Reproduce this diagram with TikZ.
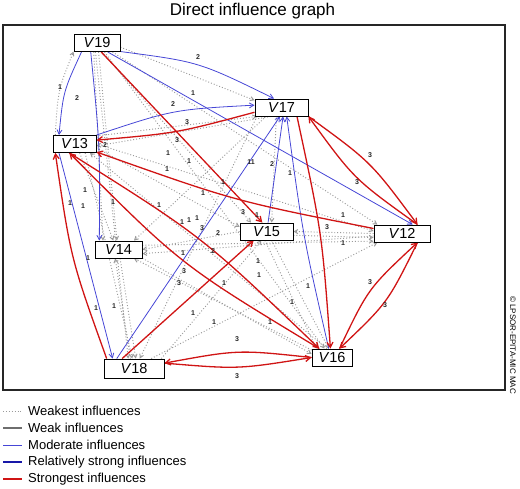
\documentclass[tikz,border=0pt]{standalone}
\usepackage{fontspec}
\setmainfont{Liberation Sans}
\usetikzlibrary{arrows.meta,shadows}
\definecolor{redE}{HTML}{D01414}
\definecolor{blueM}{HTML}{4646D6}
\definecolor{blueS}{HTML}{1818A8}
\definecolor{grayW}{HTML}{9A9A9A}
\definecolor{grayK}{HTML}{6E6E6E}
\pgfdeclarelayer{bg}
\pgfsetlayers{bg,main}
\begin{document}
\begin{tikzpicture}[x=1pt,y=-1pt,
 vnode/.style={draw=black,line width=0.9pt,fill=white,minimum height=17pt,inner sep=0pt,
   font=\fontsize{14.5}{15}\selectfont,
   drop shadow={shadow xshift=0.9pt,shadow yshift=-0.9pt,fill=black!45,opacity=0.8}},
 strong/.style={draw=redE,line width=1.3pt,-{Straight Barb[length=5pt,width=6pt]}},
 moder/.style={draw=blueM,line width=0.8pt,-{Straight Barb[length=4.5pt,width=5pt]}},
 weakest/.style={draw=grayW,line width=0.95pt,dash pattern=on 0.95pt off 2pt,-{Straight Barb[length=3.5pt,width=4pt]}},
 lbl/.style={font=\fontsize{7}{7}\selectfont\bfseries,inner sep=0pt,text=black!85},
 legtext/.style={anchor=west,font=\fontsize{13}{13}\selectfont,inner sep=0pt},
]
\useasboundingbox (0,0) rectangle (520,488);
\node[font=\fontsize{17}{17}\selectfont] (title) at (252.5,11) {Direct influence graph};
\draw[line width=1.2pt,draw=black!85] (3,25) rectangle (505,390);

% nodes
\node[vnode,minimum width=46pt] (V19) at (97,43) {\textit{V}19};
\node[vnode,minimum width=53pt] (V17) at (281.5,107.5) {\textit{V}17};
\node[vnode,minimum width=43pt] (V13) at (74.5,144) {\textit{V}13};
\node[vnode,minimum width=47pt] (V14) at (118.5,249.5) {\textit{V}14};
\node[vnode,minimum width=53pt] (V15) at (266.5,231.5) {\textit{V}15};
\node[vnode,minimum width=56pt] (V12) at (402,233.5) {\textit{V}12};
\node[vnode,minimum width=40pt] (V16) at (332,357.5) {\textit{V}16};
\node[vnode,minimum width=60pt,minimum height=19pt] (V18) at (134,368.5) {\textit{V}18};

\begin{pgfonlayer}{bg}
% weakest (dotted)
\draw[weakest] (V13.155) .. controls (58,90) .. (V19.-160);
\draw[weakest] (V19.-110) -- (V14.150);
\draw[weakest] (V19.-80) -- (V14.100);
\draw[weakest] (V19.-100) -- (V18.120);
\draw[weakest] (V19.-60) -- (V15.150);
\draw[weakest] (V19.-50) -- (V16.130);
\draw[weakest] (V19.-30) -- (V12.160);
\draw[weakest] (V19.-10) -- (V17.165);
\draw[weakest] (V13.-60) -- (V14.120);
\draw[weakest] (V13.-10) -- (V15.170);
\draw[weakest] (V13.east) -- (V12.175);
\draw[weakest] (V13.20) -- (V17.200);
\draw[weakest] (V13.-40) -- (V18.100);
\draw[weakest] (V18.110) -- (V14.-110);
\draw[weakest] (V14.-80) -- (V18.80);
\draw[weakest] (V15.west) -- (V14.east);
\draw[weakest] (V12.185) -- (V14.-10);
\draw[weakest] (V14.10) -- (V12.195);
\draw[weakest] (V16.160) -- (V14.-30);
\draw[weakest] (V14.-20) -- (V16.170);
\draw[weakest] (V17.210) -- (V14.30);
\draw[weakest] (V17.200) -- (V18.60);
\draw[weakest] (V17.220) -- (V13.-5);
\draw[weakest] (V12.west) -- (V15.east);
\draw[weakest] (V15.-8) -- (V12.188);
\draw[weakest] (V15.-60) -- (V16.110);
\draw[weakest] (V15.-100) -- (V16.150);
\draw[weakest] (V18.30) -- (V12.200);
\draw[weakest] (V18.20) -- (V15.-120);
\draw[weakest] (V17.-120) -- (V15.60);
\draw[weakest] (V16.120) -- (V13.-30);

% moderate (blue)
\draw[moder] (V13.north east) .. controls (173.5,109.5) .. (V17.175);
\draw[moder] (V19.-20) .. controls (199,61.8) .. (V17.130);
\draw[moder] (V19.-40) -- (V12.40);
\draw[moder] (V19.-150) .. controls (63.3,91.4) .. (V13.150);
\draw[moder] (V19.-125) .. controls (100,146) .. (V14.155);
\draw[moder] (V13.-150) -- (V18.155);
\draw[moder] (V18.150) -- (V17.-100);
\draw[moder] (V15.80) -- (V17.-80);
\draw[moder] (V16.110) .. controls (303,236) .. (V17.-60);

% strongest (red)
\draw[strong] (V17.190) .. controls (176.7,133.1) .. (V13.10);
\draw[strong] (V19.-65) -- (V15.115);
\draw[strong] (V12.170) .. controls (234.6,201) .. (V13.-20);
\draw[strong] (V17.south east) .. controls (371,162) .. (V12.30);
\draw[strong] (V12.30) .. controls (354,179) .. (V17.south east);
\draw[strong] (V12.-30) .. controls (387.7,302.6) .. (V16.50);
\draw[strong] (V16.50) .. controls (368.3,288.4) .. (V12.-30);
\draw[strong] (V17.-30) .. controls (322,233) .. (V16.100);
\draw[strong] (V18.140) -- (V15.-145);
\draw[strong] (V18.160) .. controls (70.8,258.8) .. (V13.-155);
\draw[strong] (V13.-120) .. controls (203,237) .. (V16.145);
\draw[strong] (V16.145) .. controls (181,265) .. (V13.-120);
\draw[strong] (V16.west) .. controls (238,349.6) .. (V18.10);
\draw[strong] (V18.10) .. controls (238,369.3) .. (V16.west);
\end{pgfonlayer}

% edge labels
\foreach \x/\y/\t in {60/87/1,77/98/2,198/57/2,193/93/1,173/104/2,187/122/3,105/145/2,177/140/3,
 168/153/1,189/161/1,167/169/1,251/162/11,223/182/1,203/193/1,370/155/3,357/182/3,272/164/2,290/173/1,
 85/190/1,70/203/1,83/206/1,113/202/1,159/205/1,182/222/1,189/220/1,197/218/1,202/228/3,218/233/2,
 243/212/3,257/215/1,343/215/1,327/227/3,343/243/1,183/253/1,213/251/2,184/271/3,179/283/3,
 258/261/1,259/275/1,224/283/1,308/286/1,292/302/1,193/313/1,214/322/1,270/322/1,96/308/1,
 114/306/1,237/339/3,237/376/3,370/282/3,385/305/3,88/258/1}
  \node[lbl] at (\x,\y) {\t};

% legend
\draw[draw=grayW,line width=0.9pt,dash pattern=on 0.9pt off 2pt] (3,411) -- (22,411);
\draw[draw=grayK,line width=1.6pt] (3,428) -- (22,428);
\draw[draw=blueM,line width=1pt] (3,445) -- (22,445);
\draw[draw=blueS,line width=1.6pt] (3,462) -- (22,462);
\draw[draw=redE,line width=1.4pt] (3,479) -- (22,479);
\node[legtext] (l1) at (28,411) {Weakest influences};
\node[legtext] (l2) at (28,428) {Weak influences};
\node[legtext] (l3) at (28,445) {Moderate influences};
\node[legtext] (l4) at (28,462) {Relatively strong influences};
\node[legtext] (l5) at (28,479) {Strongest influences};

\node[rotate=-90,font=\fontsize{8}{8}\selectfont,inner sep=0pt] (copy) at (513,345) {© LPSOR-EPITA-MIC MAC};
\end{tikzpicture}
\end{document}
